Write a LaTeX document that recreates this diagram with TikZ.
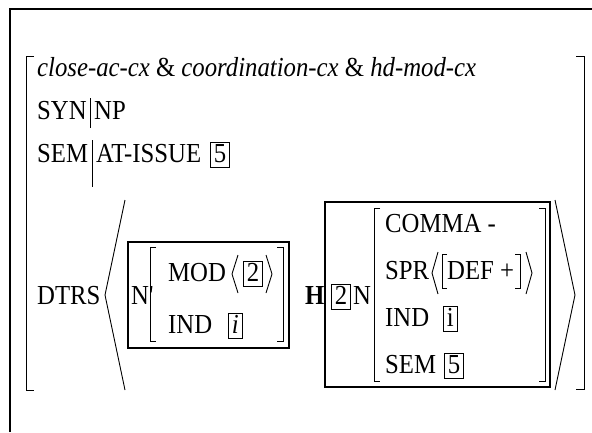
\documentclass[tikz,border=0pt]{standalone}
\usepackage{fontspec}
\setmainfont{Liberation Serif}[FakeStretch=0.9]
\newcommand{\mylbr}[4]{\draw[brk] (#1+#4,#2) -- (#1,#2) -- (#1,#3) -- (#1+#4,#3);}
\newcommand{\myrbr}[4]{\draw[brk] (#1-#4,#2) -- (#1,#2) -- (#1,#3) -- (#1-#4,#3);}
\begin{document}
\begin{tikzpicture}[x=1pt,y=-1pt,
  txt/.style={inner sep=0pt, anchor=base west, font=\fontsize{27.5pt}{32pt}\selectfont},
  tag/.style={draw, line width=0.8pt, inner xsep=3.5pt, inner ysep=0pt, text height=20pt, text depth=5pt, anchor=base west, font=\fontsize{27.5pt}{32pt}\selectfont},
  brk/.style={line width=1pt},
  bigbox/.style={draw, line width=1.4pt, inner sep=0pt},
  ang/.style={line width=0.9pt}]
\useasboundingbox (0,0) rectangle (592,432);
\draw[line width=1.2pt] (10,432) -- (10,9) -- (592,9);
% outer brackets
\mylbr{26}{56}{390}{8}
\myrbr{584}{56}{389}{8}
% row 1
\node[txt] (r1) at (37,76) {\itshape close-ac-cx \upshape\&\itshape{} coordination-cx \upshape\&\itshape{} hd-mod-cx};
% row 2
\node[txt] (syn) at (37,119) {SYN};
\draw[brk] (90,98) -- (90,128);
\node[txt] (np) at (94,119) {NP};
% row 3
\node[txt] (sem) at (37,162) {SEM};
\draw[brk] (92,140) -- (92,187);
\node[txt] (atissue) at (96,162) {AT-ISSUE};
\node[tag] (tagfive) at (210,162) {5};
% DTRS
\node[txt] (dtrs) at (37,304) {DTRS};
\draw[ang] (125,200) -- (105,295) -- (125,390);
\draw[ang] (555,200) -- (575,295) -- (555,390);
% N' box
\node[bigbox, minimum width=161pt, minimum height=106pt] (nbox) at (208.5,295) {};
\node[txt] (nprime) at (131,304) {N\textquotesingle};
\mylbr{150}{247}{341}{6}
\myrbr{283}{247}{341}{6}
\node[txt] (mod) at (168,281) {MOD};
\draw[ang] (238,255) -- (232,274) -- (238,293);
\node[tag] (tagtwoa) at (243,281) {2};
\draw[ang] (266,255) -- (272,274) -- (266,293);
\node[txt] (indone) at (168,333) {IND};
\node[tag] (tagione) at (228,333) {\itshape i};
% H box
\node[txt, font=\fontsize{27.5pt}{32pt}\selectfont\bfseries] (head) at (305,304) {H};
\node[bigbox, minimum width=225pt, minimum height=185pt] (hbox) at (437.5,294.5) {};
\node[tag] (tagtwob) at (331,304) {2};
\node[txt] (n) at (353,304) {N};
\mylbr{374}{208}{381}{6}
\myrbr{545}{208}{381}{6}
\node[txt] (comma) at (385,232) {COMMA -};
\node[txt] (spr) at (385,279) {SPR};
\draw[ang] (438,252) -- (432,273) -- (438,294);
\mylbr{442}{254}{288}{5}
\node[txt] (def) at (447,279) {DEF +};
\myrbr{520}{254}{288}{5}
\draw[ang] (526,252) -- (532,273) -- (526,294);
\node[txt] (indtwo) at (385,326) {IND};
\node[tag] (tagitwo) at (443,326) {i};
\node[txt] (semtwo) at (385,373) {SEM};
\node[tag] (tagfiveb) at (444,373) {5};
\end{tikzpicture}
\end{document}
